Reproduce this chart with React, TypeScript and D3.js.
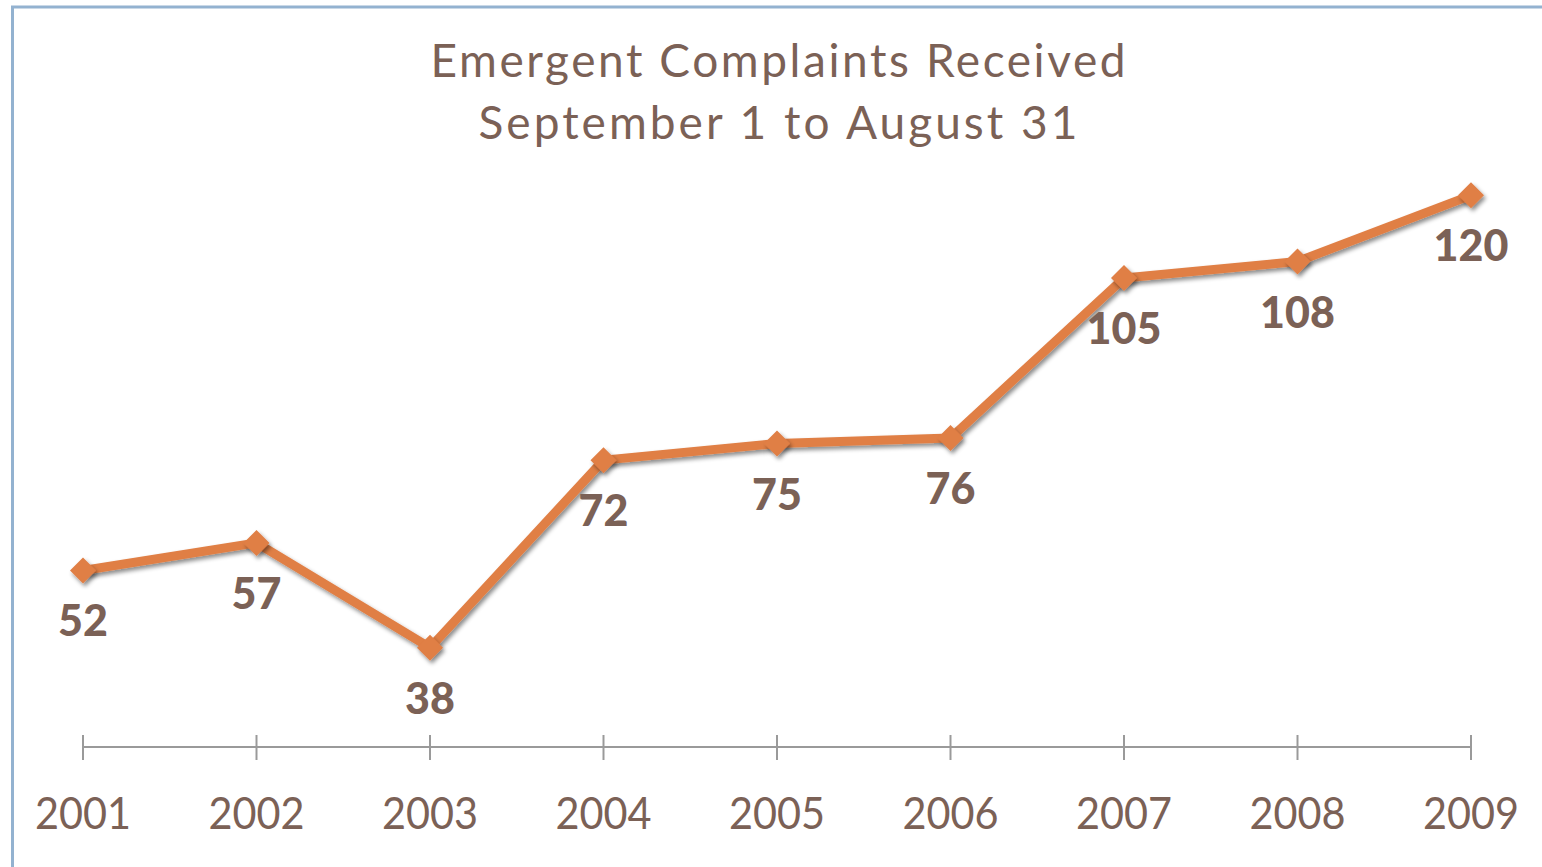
import React from 'react';
import * as d3 from 'd3';

const years = ['2001', '2002', '2003', '2004', '2005', '2006', '2007', '2008', '2009'];
const complaints = [52, 57, 38, 72, 75, 76, 105, 108, 120];
const titleLines = ['Emergent Complaints Received', 'September 1 to August 31'];

const WIDTH = 1542;
const HEIGHT = 867;
const TEXT = '#7b6156';
const LINE = '#e07f45';
const FONT = 'Lato, "Open Sans", sans-serif';

export default function App() {
  const x = d3.scalePoint<string>().domain(years).range([83, 1471]);
  const y = d3.scaleLinear().domain([20, 140]).range([747, 85]);

  const data = years.map((yr, i) => ({ yr, v: complaints[i] }));
  const line = d3
    .line<{ yr: string; v: number }>()
    .x((d) => x(d.yr) || 0)
    .y((d) => y(d.v));

  const axisY = y(20);
  const r = 13;

  return (
    <svg
      width={WIDTH}
      height={HEIGHT}
      style={{ position: 'absolute', left: 0, top: 0, background: '#fff' }}
    >
      <defs>
        <filter id="shadow" x="-50%" y="-50%" width="200%" height="200%">
          <feDropShadow dx="2" dy="3" stdDeviation="2" floodColor="#000" floodOpacity="0.45" />
        </filter>
      </defs>

      {/* frame */}
      <rect x={12.5} y={7} width={1700} height={1000} fill="none" stroke="#93b2d0" strokeWidth={3} />

      {/* title */}
      <text
        x={778}
        y={77}
        textAnchor="middle"
        fontFamily={FONT}
        fontSize={46}
        fill={TEXT}
        textLength={695}
        lengthAdjust="spacing"
      >
        {titleLines[0]}
      </text>
      <text
        x={778}
        y={139}
        textAnchor="middle"
        fontFamily={FONT}
        fontSize={46}
        fill={TEXT}
        textLength={599}
        lengthAdjust="spacing"
      >
        {titleLines[1]}
      </text>

      {/* category axis */}
      <g stroke="#9a9a9a" strokeWidth={2}>
        <line x1={x(years[0])} x2={x(years[years.length - 1])} y1={axisY} y2={axisY} />
        {years.map((yr) => (
          <line key={yr} x1={x(yr)} x2={x(yr)} y1={axisY - 12} y2={axisY + 13} />
        ))}
      </g>
      {years.map((yr) => (
        <text
          key={yr}
          x={x(yr)}
          y={829}
          textAnchor="middle"
          fontFamily={FONT}
          fontSize={45}
          fill={TEXT}
          textLength={96}
          lengthAdjust="spacingAndGlyphs"
        >
          {yr}
        </text>
      ))}

      {/* series */}
      <path
        d={line(data) || ''}
        fill="none"
        stroke={LINE}
        strokeWidth={9}
        strokeLinejoin="round"
        filter="url(#shadow)"
      />
      {data.map((d) => {
        const cx = x(d.yr) || 0;
        const cy = y(d.v);
        return (
          <path
            key={d.yr}
            d={`M${cx},${cy - r}L${cx + r},${cy}L${cx},${cy + r}L${cx - r},${cy}Z`}
            fill={LINE}
            filter="url(#shadow)"
          />
        );
      })}

      {/* data labels */}
      {data.map((d) => (
        <text
          key={d.yr}
          x={x(d.yr)}
          y={y(d.v) + 66}
          textAnchor="middle"
          fontFamily={FONT}
          fontWeight={900}
          fontSize={43}
          fill={TEXT}
        >
          {d.v}
        </text>
      ))}
    </svg>
  );
}
